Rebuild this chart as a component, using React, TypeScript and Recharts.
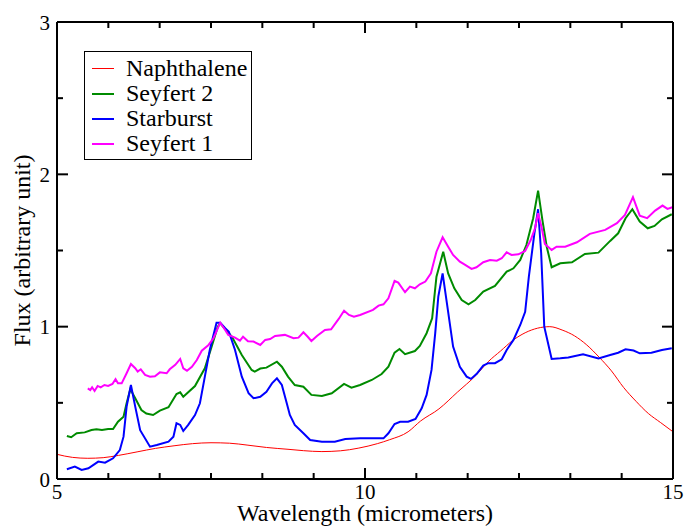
import React from 'react';
import { LineChart, Line, XAxis, YAxis, Legend, Label } from 'recharts';

// ---------- data ----------
const NAPH_X = [5.0, 5.25, 5.5, 5.75, 6.0, 6.3, 6.6, 6.9, 7.2, 7.5, 7.8, 8.1, 8.4, 8.75, 9.0, 9.3, 9.6, 9.9, 10.2, 10.4, 10.7, 10.9, 11.2, 11.5, 11.8, 12.0, 12.2, 12.4, 12.6, 12.8, 13.0, 13.2, 13.4, 13.6, 13.8, 14.0, 14.2, 14.4, 14.6, 14.8, 15.0];
const NAPH_Y = [0.162, 0.142, 0.136, 0.14, 0.155, 0.178, 0.201, 0.218, 0.232, 0.238, 0.235, 0.222, 0.207, 0.195, 0.186, 0.18, 0.185, 0.203, 0.232, 0.258, 0.31, 0.38, 0.46, 0.57, 0.68, 0.77, 0.84, 0.91, 0.96, 0.99, 1.0, 0.978, 0.94, 0.88, 0.8, 0.71, 0.6, 0.51, 0.43, 0.37, 0.31];

const SY2_X = [5.16, 5.23, 5.32, 5.45, 5.56, 5.64, 5.73, 5.83, 5.91, 5.99, 6.08, 6.13, 6.19, 6.27, 6.37, 6.45, 6.56, 6.67, 6.81, 6.94, 7.0, 7.05, 7.24, 7.4, 7.51, 7.61, 7.65, 7.84, 8.0, 8.16, 8.21, 8.3, 8.4, 8.57, 8.65, 8.75, 8.86, 9.0, 9.13, 9.3, 9.46, 9.66, 9.78, 9.92, 10.11, 10.27, 10.38, 10.48, 10.56, 10.65, 10.81, 10.89, 11.0, 11.09, 11.16, 11.27, 11.35, 11.45, 11.57, 11.68, 11.79, 11.92, 12.11, 12.3, 12.41, 12.52, 12.62, 12.73, 12.81, 12.88, 12.95, 13.03, 13.17, 13.36, 13.57, 13.79, 13.98, 14.11, 14.23, 14.34, 14.46, 14.59, 14.7, 14.82, 14.98];
const SY2_Y = [0.282, 0.274, 0.3, 0.306, 0.322, 0.326, 0.322, 0.328, 0.328, 0.376, 0.409, 0.497, 0.59, 0.53, 0.453, 0.43, 0.42, 0.449, 0.471, 0.558, 0.569, 0.54, 0.61, 0.727, 0.869, 1.0, 1.022, 0.934, 0.814, 0.716, 0.705, 0.725, 0.731, 0.77, 0.737, 0.672, 0.617, 0.606, 0.552, 0.545, 0.563, 0.624, 0.6, 0.617, 0.65, 0.689, 0.737, 0.829, 0.853, 0.819, 0.84, 0.873, 0.957, 1.055, 1.328, 1.492, 1.35, 1.252, 1.175, 1.147, 1.175, 1.23, 1.267, 1.361, 1.383, 1.438, 1.536, 1.712, 1.893, 1.7, 1.525, 1.39, 1.416, 1.423, 1.477, 1.486, 1.563, 1.613, 1.712, 1.771, 1.69, 1.646, 1.661, 1.705, 1.738];

const STAR_X = [5.16, 5.29, 5.4, 5.51, 5.67, 5.78, 5.91, 6.02, 6.08, 6.13, 6.2, 6.27, 6.35, 6.51, 6.62, 6.81, 6.89, 6.94, 7.0, 7.05, 7.13, 7.24, 7.32, 7.4, 7.48, 7.59, 7.65, 7.73, 7.79, 7.89, 8.0, 8.11, 8.19, 8.3, 8.4, 8.49, 8.57, 8.65, 8.73, 8.78, 8.86, 9.0, 9.11, 9.3, 9.51, 9.68, 9.92, 10.3, 10.38, 10.48, 10.57, 10.7, 10.82, 10.92, 11.0, 11.08, 11.14, 11.19, 11.26, 11.33, 11.43, 11.54, 11.65, 11.72, 11.81, 11.92, 12.0, 12.11, 12.22, 12.3, 12.41, 12.52, 12.6, 12.66, 12.75, 12.81, 12.86, 12.91, 13.03, 13.17, 13.3, 13.54, 13.79, 13.98, 14.11, 14.23, 14.36, 14.46, 14.65, 14.82, 14.98];
const STAR_Y = [0.064, 0.081, 0.059, 0.07, 0.114, 0.107, 0.136, 0.19, 0.278, 0.475, 0.617, 0.475, 0.32, 0.212, 0.223, 0.245, 0.278, 0.366, 0.355, 0.315, 0.355, 0.42, 0.497, 0.672, 0.847, 1.026, 1.026, 0.99, 0.967, 0.847, 0.672, 0.563, 0.53, 0.54, 0.573, 0.628, 0.661, 0.617, 0.497, 0.42, 0.355, 0.3, 0.256, 0.245, 0.245, 0.263, 0.267, 0.267, 0.3, 0.361, 0.376, 0.376, 0.394, 0.464, 0.552, 0.716, 0.957, 1.197, 1.35, 1.153, 0.869, 0.737, 0.672, 0.657, 0.689, 0.744, 0.76, 0.76, 0.786, 0.847, 0.913, 1.011, 1.098, 1.328, 1.613, 1.771, 1.482, 1.0, 0.788, 0.792, 0.797, 0.819, 0.792, 0.814, 0.829, 0.851, 0.843, 0.825, 0.829, 0.847, 0.858];

const SY1_X = [5.5, 5.54, 5.57, 5.61, 5.66, 5.71, 5.77, 5.83, 5.9, 5.95, 5.99, 6.05, 6.13, 6.2, 6.27, 6.31, 6.36, 6.43, 6.51, 6.59, 6.67, 6.78, 6.83, 6.92, 7.0, 7.05, 7.11, 7.19, 7.27, 7.35, 7.46, 7.54, 7.65, 7.73, 7.78, 7.89, 7.97, 8.02, 8.1, 8.19, 8.3, 8.38, 8.46, 8.54, 8.7, 8.84, 8.92, 9.0, 9.07, 9.13, 9.22, 9.35, 9.45, 9.57, 9.66, 9.74, 9.82, 9.92, 10.13, 10.22, 10.3, 10.38, 10.48, 10.54, 10.65, 10.73, 10.81, 10.89, 10.98, 11.07, 11.16, 11.26, 11.35, 11.43, 11.54, 11.6, 11.73, 11.81, 11.92, 12.03, 12.14, 12.22, 12.3, 12.38, 12.49, 12.6, 12.69, 12.76, 12.81, 12.87, 12.92, 13.03, 13.11, 13.25, 13.44, 13.65, 13.9, 14.09, 14.22, 14.35, 14.46, 14.58, 14.71, 14.83, 14.91, 14.99];
const SY1_Y = [0.595, 0.584, 0.602, 0.578, 0.611, 0.602, 0.617, 0.611, 0.624, 0.655, 0.628, 0.628, 0.694, 0.755, 0.727, 0.705, 0.72, 0.683, 0.672, 0.675, 0.7, 0.694, 0.72, 0.749, 0.788, 0.727, 0.711, 0.737, 0.781, 0.842, 0.88, 0.924, 1.026, 0.978, 0.946, 0.928, 0.908, 0.934, 0.904, 0.902, 0.88, 0.913, 0.919, 0.939, 0.946, 0.924, 0.928, 0.963, 0.934, 0.906, 0.939, 0.978, 0.983, 1.049, 1.105, 1.077, 1.066, 1.077, 1.11, 1.138, 1.147, 1.186, 1.3, 1.289, 1.226, 1.263, 1.252, 1.278, 1.296, 1.35, 1.492, 1.587, 1.525, 1.471, 1.427, 1.412, 1.379, 1.39, 1.423, 1.438, 1.433, 1.449, 1.488, 1.471, 1.475, 1.497, 1.569, 1.646, 1.745, 1.646, 1.543, 1.504, 1.525, 1.525, 1.554, 1.609, 1.635, 1.679, 1.733, 1.85, 1.729, 1.712, 1.762, 1.795, 1.773, 1.784];

const SERIES_NAMES = ['Naphthalene', 'Seyfert 2', 'Starburst', 'Seyfert 1'];
const SERIES_COLORS = ['#ff0000', '#008b00', '#0000ff', '#ff00ff'];
const SERIES_WIDTHS = [1, 2, 2, 2];

const X_DOMAIN = [5, 15];
const Y_DOMAIN = [0, 3];
const X_MAJOR = [5, 10, 15];
const Y_MAJOR = [0, 1, 2, 3];
const X_TICKS = Array.from({ length: 13 }, (_, i) => 5 + (i * 5) / 6);
const Y_TICKS = [0, 0.5, 1, 1.5, 2, 2.5, 3];

const X_TITLE = 'Wavelength (micrometers)';
const Y_TITLE = 'Flux (arbitrary unit)';

const zip = (xs: number[], ys: number[]) => xs.map((x, i) => ({ x, y: ys[i] }));
const naphData = zip(NAPH_X, NAPH_Y);
const sy2Data = zip(SY2_X, SY2_Y);
const starData = zip(STAR_X, STAR_Y);
const sy1Data = zip(SY1_X, SY1_Y);

// ---------- styling ----------
const FONT = '"Liberation Serif", "Times New Roman", serif';
const TICK_FONT = 21;
const MAJOR_LEN = 11;
const MINOR_LEN = 6;

const isMajor = (v: number, majors: number[]) => majors.some((m) => Math.abs(m - v) < 1e-6);

const BottomTick = (props: any) => {
  const { x, y, payload } = props;
  const major = isMajor(payload.value, X_MAJOR);
  return (
    <g>
      <line x1={x} x2={x} y1={y} y2={y - (major ? MAJOR_LEN : MINOR_LEN)} stroke="#000" strokeWidth={2} />
      {major && (
        <text x={x} y={y + 20} textAnchor="middle" fontFamily={FONT} fontSize={TICK_FONT} fill="#000">
          {String(Math.round(payload.value))}
        </text>
      )}
    </g>
  );
};

const TopTick = (props: any) => {
  const { x, y, payload } = props;
  const major = isMajor(payload.value, X_MAJOR);
  return <line x1={x} x2={x} y1={y} y2={y + (major ? MAJOR_LEN : MINOR_LEN)} stroke="#000" strokeWidth={2} />;
};

const LeftTick = (props: any) => {
  const { x, y, payload } = props;
  const major = isMajor(payload.value, Y_MAJOR);
  return (
    <g>
      <line x1={x} x2={x + (major ? MAJOR_LEN : MINOR_LEN)} y1={y} y2={y} stroke="#000" strokeWidth={2} />
      {major && (
        <text x={x - 7} y={y + 7.5} textAnchor="end" fontFamily={FONT} fontSize={TICK_FONT} fill="#000">
          {String(Math.round(payload.value))}
        </text>
      )}
    </g>
  );
};

const RightTick = (props: any) => {
  const { x, y, payload } = props;
  const major = isMajor(payload.value, Y_MAJOR);
  return <line x1={x} x2={x - (major ? MAJOR_LEN : MINOR_LEN)} y1={y} y2={y} stroke="#000" strokeWidth={2} />;
};

const XTitle = (props: any) => {
  const vb = props.viewBox || { x: 57, y: 479, width: 616 };
  return (
    <text x={vb.x + vb.width / 2} y={vb.y + 42} textAnchor="middle" fontFamily={FONT} fontSize={24} fill="#000">
      {X_TITLE}
    </text>
  );
};

const YTitle = (props: any) => {
  const vb = props.viewBox || { x: 17, y: 22, width: 40, height: 457 };
  const cx = vb.x + vb.width - 27;
  const cy = vb.y + vb.height / 2;
  return (
    <text x={cx} y={cy} transform={`rotate(-90 ${cx} ${cy})`} textAnchor="middle" fontFamily={FONT} fontSize={24} fill="#000">
      {Y_TITLE}
    </text>
  );
};

const LegendBox = () => (
  <div
    style={{
      border: '1px solid #000',
      background: '#fff',
      width: 168,
      height: 109,
      boxSizing: 'border-box',
      padding: '4px 0 0 7px',
      fontFamily: FONT,
      fontSize: 24,
      color: '#000',
    }}
  >
    {SERIES_NAMES.map((name, i) => (
      <div key={name} style={{ display: 'flex', alignItems: 'center', height: 25, whiteSpace: 'nowrap' }}>
        <span
          style={{
            display: 'inline-block',
            width: 22,
            height: 0,
            borderTop: `${SERIES_WIDTHS[i]}px solid ${SERIES_COLORS[i]}`,
            marginRight: 12,
          }}
        />
        <span style={{ lineHeight: '25px' }}>{name}</span>
      </div>
    ))}
  </div>
);

const axisLineStyle = { stroke: '#000', strokeWidth: 2 };

export default function App() {
  return (
    <div style={{ position: 'absolute', left: 0, top: 0, width: 686, height: 526, background: '#fff' }}>
      <LineChart width={686} height={526} margin={{ top: 21, right: 12, bottom: 17, left: 17 }}>
        <XAxis
          xAxisId="bottom"
          dataKey="x"
          type="number"
          domain={X_DOMAIN}
          allowDataOverflow
          ticks={X_TICKS}
          interval={0}
          height={30}
          tickSize={0}
          tickMargin={0}
          tickLine={false}
          tick={<BottomTick />}
          axisLine={axisLineStyle}
        >
          <Label content={<XTitle />} />
        </XAxis>
        <XAxis
          xAxisId="top"
          orientation="top"
          dataKey="x"
          type="number"
          domain={X_DOMAIN}
          allowDataOverflow
          ticks={X_TICKS}
          interval={0}
          height={1}
          tickSize={0}
          tickMargin={0}
          tickLine={false}
          tick={<TopTick />}
          axisLine={axisLineStyle}
        />
        <YAxis
          yAxisId="left"
          type="number"
          domain={Y_DOMAIN}
          allowDataOverflow
          ticks={Y_TICKS}
          interval={0}
          width={40}
          tickSize={0}
          tickMargin={0}
          tickLine={false}
          tick={<LeftTick />}
          axisLine={axisLineStyle}
        >
          <Label content={<YTitle />} />
        </YAxis>
        <YAxis
          yAxisId="right"
          orientation="right"
          type="number"
          domain={Y_DOMAIN}
          allowDataOverflow
          ticks={Y_TICKS}
          interval={0}
          width={1}
          tickSize={0}
          tickMargin={0}
          tickLine={false}
          tick={<RightTick />}
          axisLine={axisLineStyle}
        />
        <Legend
          layout="vertical"
          align="center"
          verticalAlign="middle"
          wrapperStyle={{ left: 84, top: 51, width: 168, height: 109 }}
          content={<LegendBox />}
        />
        <Line
          name={SERIES_NAMES[0]}
          data={naphData}
          dataKey="y"
          xAxisId="top"
          yAxisId="right"
          type="monotone"
          stroke={SERIES_COLORS[0]}
          strokeWidth={SERIES_WIDTHS[0]}
          dot={false}
          activeDot={false}
          isAnimationActive={false}
        />
        <Line
          name={SERIES_NAMES[1]}
          data={sy2Data}
          dataKey="y"
          xAxisId="bottom"
          yAxisId="left"
          type="linear"
          stroke={SERIES_COLORS[1]}
          strokeWidth={SERIES_WIDTHS[1]}
          dot={false}
          activeDot={false}
          isAnimationActive={false}
        />
        <Line
          name={SERIES_NAMES[2]}
          data={starData}
          dataKey="y"
          xAxisId="bottom"
          yAxisId="left"
          type="linear"
          stroke={SERIES_COLORS[2]}
          strokeWidth={SERIES_WIDTHS[2]}
          dot={false}
          activeDot={false}
          isAnimationActive={false}
        />
        <Line
          name={SERIES_NAMES[3]}
          data={sy1Data}
          dataKey="y"
          xAxisId="bottom"
          yAxisId="left"
          type="linear"
          stroke={SERIES_COLORS[3]}
          strokeWidth={SERIES_WIDTHS[3]}
          dot={false}
          activeDot={false}
          isAnimationActive={false}
        />
      </LineChart>
    </div>
  );
}
